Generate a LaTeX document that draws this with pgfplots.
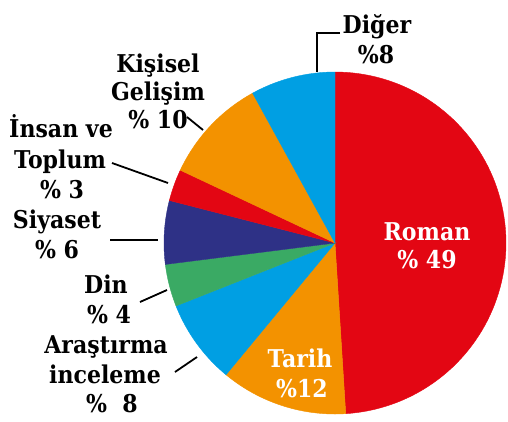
\documentclass[border=0pt]{standalone}
\usepackage{fontspec}
\setmainfont{DejaVu Serif}[FakeStretch=0.9]
\usepackage{pgfplots}
\pgfplotsset{compat=1.18}

\definecolor{pieRed}{RGB}{227,6,19}
\definecolor{pieOrange}{RGB}{243,146,0}
\definecolor{pieBlue}{RGB}{0,159,227}
\definecolor{pieGreen}{RGB}{58,170,100}
\definecolor{pieNavy}{RGB}{46,49,134}

% one text line, placed on its baseline (pixel coordinates)
\newcommand{\lbl}[4][black]{\node[anchor=base, inner sep=0pt, text=#1,
  font=\fontsize{24.5}{28}\selectfont\bfseries] at (axis cs:#2,#3) {#4};}

\begin{document}
\begin{tikzpicture}
\begin{axis}[
    width=508pt, height=421pt, scale only axis,
    xmin=0, xmax=508, ymin=0, ymax=421, y dir=reverse,
    hide axis, clip=false,
    every axis plot/.append style={samples=90, line width=0.4pt},
]
\addplot[draw=none, forget plot] coordinates {(0,0) (508,421)};

% slices, clockwise from the top; cumulative shares in percent
% Roman 49
\addplot[fill=pieRed, draw=pieRed, domain=90-3.6*49:90]
  ({335+171*cos(x)},{243-171*sin(x)}) -- (axis cs:335,243) -- cycle;
% Tarih 12
\addplot[fill=pieOrange, draw=pieOrange, domain=90-3.6*61:90-3.6*49]
  ({335+171*cos(x)},{243-171*sin(x)}) -- (axis cs:335,243) -- cycle;
% Arastirma inceleme 8
\addplot[fill=pieBlue, draw=pieBlue, domain=90-3.6*69:90-3.6*61]
  ({335+171*cos(x)},{243-171*sin(x)}) -- (axis cs:335,243) -- cycle;
% Din 4
\addplot[fill=pieGreen, draw=pieGreen, domain=90-3.6*73:90-3.6*69]
  ({335+171*cos(x)},{243-171*sin(x)}) -- (axis cs:335,243) -- cycle;
% Siyaset 6
\addplot[fill=pieNavy, draw=pieNavy, domain=90-3.6*79:90-3.6*73]
  ({335+171*cos(x)},{243-171*sin(x)}) -- (axis cs:335,243) -- cycle;
% Insan ve Toplum 3
\addplot[fill=pieRed, draw=pieRed, domain=90-3.6*82:90-3.6*79]
  ({335+171*cos(x)},{243-171*sin(x)}) -- (axis cs:335,243) -- cycle;
% Kisisel Gelisim 10
\addplot[fill=pieOrange, draw=pieOrange, domain=90-3.6*92:90-3.6*82]
  ({335+171*cos(x)},{243-171*sin(x)}) -- (axis cs:335,243) -- cycle;
% Diger 8
\addplot[fill=pieBlue, draw=pieBlue, domain=90-3.6*100:90-3.6*92]
  ({335+171*cos(x)},{243-171*sin(x)}) -- (axis cs:335,243) -- cycle;

% leader lines
\draw[line width=1.8pt] (axis cs:340,33) -- (axis cs:317,33) -- (axis cs:317,72);
\draw[line width=1.8pt] (axis cs:187,117) -- (axis cs:203,130);
\draw[line width=1.8pt] (axis cs:112,163) -- (axis cs:168,183);
\draw[line width=1.8pt] (axis cs:110,240) -- (axis cs:158,240);
\draw[line width=1.8pt] (axis cs:140,302) -- (axis cs:167,290);
\draw[line width=1.8pt] (axis cs:175,372) -- (axis cs:197,357);

% labels
\lbl{377}{33}{Diğer}
\lbl{376}{63}{\%8}
\lbl{158}{72}{Kişisel}
\lbl{158}{100}{Gelişim}
\lbl{158}{128}{\% 10}
\lbl{61}{137}{İnsan ve}
\lbl{60}{168}{Toplum}
\lbl{62}{198}{\% 3}
\lbl{57}{228}{Siyaset}
\lbl{57}{258}{\% 6}
\lbl{106}{293}{Din}
\lbl{109}{323}{\% 4}
\lbl{106}{353}{Araştırma}
\lbl{105}{383}{inceleme}
\lbl{112}{412}{\%~~8}
\lbl[white]{300}{367}{Tarih}
\lbl[white]{302}{397}{\%12}
\lbl[white]{427}{240}{Roman}
\lbl[white]{427}{268}{\% 49}
\end{axis}
\end{tikzpicture}
\end{document}
